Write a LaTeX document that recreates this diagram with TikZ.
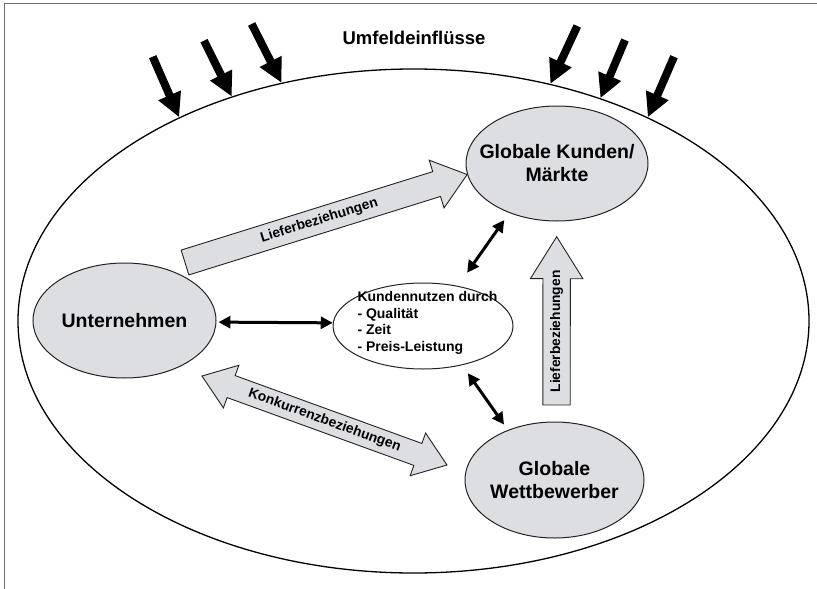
\documentclass[tikz,border=0pt]{standalone}
\usepackage{fontspec}
\setmainfont{Liberation Sans}
\usetikzlibrary{shapes.geometric,arrows.meta,calc}
\definecolor{nodefill}{RGB}{221,222,225}
\definecolor{framegray}{RGB}{110,110,110}
\definecolor{edgegray}{RGB}{35,35,35}
% single block arrow: #1 style, #2 from, #3 to, #4 half shaft, #5 half head, #6 head length
\newcommand\blockarrow[6]{%
  \coordinate (ba-h) at ($(#3)!#6!(#2)$);
  \filldraw[#1] ($(#2)!#4!90:(#3)$) -- ($(ba-h)!#4!-90:(#2)$) -- ($(ba-h)!#5!-90:(#2)$)
    -- (#3) -- ($(ba-h)!#5!90:(#2)$) -- ($(ba-h)!#4!90:(#2)$) -- ($(#2)!#4!-90:(#3)$) -- cycle;}
% double block arrow
\newcommand\dblockarrow[6]{%
  \coordinate (ba-h1) at ($(#2)!#6!(#3)$);
  \coordinate (ba-h2) at ($(#3)!#6!(#2)$);
  \filldraw[#1] (#2) -- ($(ba-h1)!#5!90:(#3)$) -- ($(ba-h1)!#4!90:(#3)$)
    -- ($(ba-h2)!#4!-90:(#2)$) -- ($(ba-h2)!#5!-90:(#2)$) -- (#3)
    -- ($(ba-h2)!#5!90:(#2)$) -- ($(ba-h2)!#4!90:(#2)$)
    -- ($(ba-h1)!#4!-90:(#3)$) -- ($(ba-h1)!#5!-90:(#3)$) -- cycle;}
\tikzset{
  bignode/.style={ellipse, draw=edgegray, line width=1pt, fill=nodefill, inner sep=0pt},
  bigtext/.style={font=\bfseries\fontsize{19.5}{23}\selectfont, align=center, inner sep=0pt},
  arrtext/.style={font=\bfseries\fontsize{13.8}{16}\selectfont, inner sep=0pt},
  blockstyle/.style={fill=nodefill, draw=edgegray, line width=0.9pt, line join=miter},
  blk/.style={line width=3pt, {Triangle[length=12pt,width=12pt]}-{Triangle[length=12pt,width=12pt]}},
  umf/.style={line width=8pt, -{Triangle[length=24pt,width=23pt]}}
}
\begin{document}
\begin{tikzpicture}[x=1pt,y=-1pt]
\useasboundingbox (0,0) rectangle (817,589);
% frame
\draw[framegray, line width=1.5pt] (4.5,589) -- (4.5,3.5) -- (817,3.5);
% outer ellipse
\node[ellipse, draw=black, line width=1.3pt, minimum width=791pt, minimum height=504pt, inner sep=0pt] (outer) at (413.5,321) {};
\node[font=\bfseries\fontsize{18.5}{22}\selectfont] (umfeld) at (414,38) {Umfeldeinflüsse};
% environment arrows
\coordinate (ua) at (152.7,56.7);
\coordinate (ub) at (204,40.7);
\coordinate (uc) at (251.7,24);
\coordinate (ud) at (577.3,26);
\coordinate (ue) at (625,40);
\coordinate (uf) at (674,56.7);
\draw[umf] (ua) -- (outer.139.1);
\draw[umf] (ub) -- (outer.129.96);
\draw[umf] (uc) -- (outer.119.75);
\draw[umf] (ud) -- (outer.60);
\draw[umf] (ue) -- (outer.50.2);
\draw[umf] (uf) -- (outer.41.3);
% nodes
\node[bignode, minimum width=183pt, minimum height=115pt] (unternehmen) at (124.5,320.5) {};
\node[bigtext] (untext) at (unternehmen) {Unternehmen};
\node[bignode, minimum width=182pt, minimum height=115pt] (kunden) at (557,163.5) {};
\node[bigtext] (kutext) at (kunden) {Globale Kunden/\\Märkte};
\node[bignode, minimum width=179pt, minimum height=116pt] (wettbewerber) at (554.5,480) {};
\node[bigtext] (wetext) at (wettbewerber) {Globale\\Wettbewerber};
\node[ellipse, draw=edgegray, line width=1pt, fill=white, minimum width=180pt, minimum height=86pt, inner sep=0pt] (nutzen) at (423,326) {};
\node[font=\bfseries\fontsize{14}{16.7}\selectfont, align=left, inner sep=0pt] (nutext) at (427.5,323) {Kundennutzen durch\\- Qualität\\- Zeit\\- Preis-Leistung};
% block arrows
\coordinate (l1a) at (185,262.5);
\coordinate (l2a) at (556.5,405);
\coordinate (l2b) at (556.7,236.7);
\coordinate (k1) at (202,376);
\coordinate (k2) at (447,465);
\blockarrow{blockstyle}{l1a}{kunden.187}{13pt}{25pt}{32pt}
\path (l1a) -- node[arrtext, sloped, pos=0.476] {Lieferbeziehungen} (kunden.187);
\blockarrow{blockstyle}{l2a}{l2b}{13.7pt}{26.3pt}{42pt}
\path (l2a) -- node[arrtext, sloped, pos=0.437] {Lieferbeziehungen} (l2b);
\dblockarrow{blockstyle}{k1}{k2}{11.7pt}{22.7pt}{31pt}
\path (k1) -- node[arrtext, sloped, pos=0.5] {Konkurrenzbeziehungen} (k2);
% small double arrows
\draw[blk, shorten <=2pt] (unternehmen.-1) -- (nutzen.178);
\draw[blk, shorten <=16pt, shorten >=8.6pt] (nutzen.49) -- (kunden.226);
\draw[blk, shorten <=9.8pt, shorten >=6.6pt] (nutzen.-45.5) -- (wettbewerber.133.3);
\end{tikzpicture}
\end{document}
